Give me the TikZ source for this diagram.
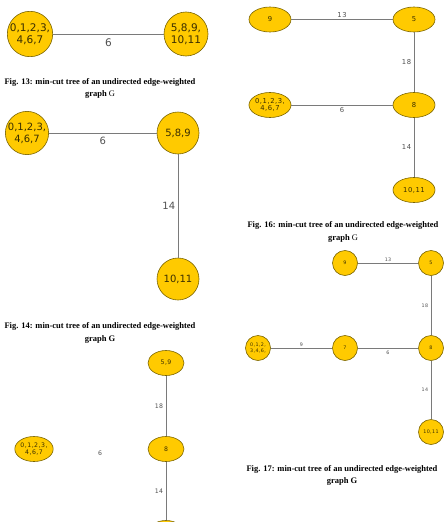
\documentclass[tikz,border=0pt]{standalone}
\usepackage{fontspec}
\setmainfont{Liberation Serif}
\newfontfamily\nodefont{DejaVu Sans}
\newfontfamily\widefont[LetterSpace=8]{DejaVu Sans}
\usetikzlibrary{shapes.geometric,positioning}
\definecolor{cGold}{HTML}{FFCA00}
\definecolor{cRim}{HTML}{7A6400}
\definecolor{cEdge}{HTML}{7A7A7A}
\definecolor{cInk}{HTML}{3A2E00}
\definecolor{cGray}{HTML}{505050}
\tikzset{
  vtx/.style={circle,draw=cRim,fill=cGold,line width=0.6pt,align=center,inner sep=0pt,text=cInk,minimum size=#1},
  vtx/.default=44pt,
  ovl/.style={ellipse,draw=cRim,fill=cGold,line width=0.6pt,align=center,inner sep=0pt,text=cInk,minimum width=#1,minimum height=25pt},
  ovl/.default=42pt,
  edg/.style={draw=cEdge,line width=0.7pt},
  wlbl/.style={text=cGray,inner sep=1.5pt},
  capt/.style={font=\bfseries\fontsize{8.5}{12.5}\selectfont,align=center,inner sep=0pt},
}

\begin{document}
\begin{tikzpicture}[x=1pt,y=-1pt]
  \clip (0,0) rectangle (445,522);
  % Fig. 13
  \begin{scope}[every node/.append style={font=\nodefont\fontsize{10.5}{12.5}\selectfont}]
    \node[vtx] (a13) at (30,34) {0,1,2,3,\\4,6,7};
    \node[vtx] (b13) at (186,34) {5,8,9,\\10,11};
    \draw[edg] (a13) -- node[wlbl,below=3pt] (w13) {6} (b13);
  \end{scope}
  \node[capt] (cap13) at (100,88.5) {Fig. 13: min-cut tree of an undirected edge-weighted\\graph {\mdseries G}};

  % Fig. 14
  \begin{scope}[every node/.append style={font=\nodefont\fontsize{10}{12}\selectfont}]
    \node[vtx=42pt] (a14) at (27,133) {0,1,2,3,\\4,6,7};
    \node[vtx=42pt] (b14) at (178,133) {5,8,9};
    \node[vtx=42pt] (c14) at (178,279) {10,11};
    \draw[edg] (a14) -- node[wlbl,below=2pt] (w14a) {6} (b14);
    \draw[edg] (b14) -- node[wlbl,left=1pt] (w14b) {14} (c14);
  \end{scope}
  \node[capt] (cap14) at (100,333) {Fig. 14: min-cut tree of an undirected edge-weighted\\graph G};

  % Fig. 15
  \begin{scope}[every node/.append style={font=\widefont\fontsize{6.2}{7}\selectfont}]
    \node[ovl=36pt] (a15) at (34,449) {0,1,2,3,\\4,6,7};
    \node[ovl=36pt] (b15) at (166,363) {5,9};
    \node[ovl=36pt] (c15) at (166,449) {8};
    \node[ovl=36pt] (d15) at (166,533) {};
    \node[wlbl] (w15a) at (100,453) {6};
    \draw[edg] (b15) -- node[wlbl,left=1pt] (w15b) {18} (c15);
    \draw[edg] (c15) -- node[wlbl,left=1pt] (w15c) {14} (d15);
  \end{scope}

  % Fig. 16
  \begin{scope}[every node/.append style={font=\widefont\fontsize{6.8}{7.5}\selectfont}]
    \node[ovl] (a16) at (270,19.5) {9};
    \node[ovl] (b16) at (414,19.5) {5};
    \node[ovl] (c16) at (270,105) {0,1,2,3,\\4,6,7};
    \node[ovl] (d16) at (414,105) {8};
    \node[ovl] (e16) at (414,190) {10,11};
    \draw[edg] (a16) -- node[wlbl,above=0pt] (w16a) {13} (b16);
    \draw[edg] (b16) -- node[wlbl,left=1pt] (w16b) {18} (d16);
    \draw[edg] (c16) -- node[wlbl,below=1pt] (w16c) {6} (d16);
    \draw[edg] (d16) -- node[wlbl,left=1pt] (w16d) {14} (e16);
  \end{scope}
  \node[capt] (cap16) at (343,232) {Fig. 16: min-cut tree of an undirected edge-weighted\\graph {\mdseries G}};

  % Fig. 17
  \begin{scope}[every node/.append style={font=\widefont\fontsize{4.8}{5.5}\selectfont}]
    \node[vtx=25pt] (a17) at (258,348) {0,1,2,\\3,4,6,};
    \node[vtx=25pt] (b17) at (345,348) {7};
    \node[vtx=25pt] (c17) at (431,348) {8};
    \node[vtx=25pt] (d17) at (345,263) {9};
    \node[vtx=25pt] (e17) at (431,263) {5};
    \node[vtx=25pt] (f17) at (431,432) {10,11};
    \draw[edg] (d17) -- node[wlbl,above=0pt] (w17a) {13} (e17);
    \draw[edg] (e17) -- node[wlbl,left=1pt] (w17b) {18} (c17);
    \draw[edg] (a17) -- node[wlbl,above=0pt] (w17c) {9} (b17);
    \draw[edg] (b17) -- node[wlbl,below=1pt] (w17d) {6} (c17);
    \draw[edg] (c17) -- node[wlbl,left=1pt] (w17e) {14} (f17);
  \end{scope}
  \node[capt] (cap17) at (342,475.5) {Fig. 17: min-cut tree of an undirected edge-weighted\\graph G};
\end{tikzpicture}
\end{document}
